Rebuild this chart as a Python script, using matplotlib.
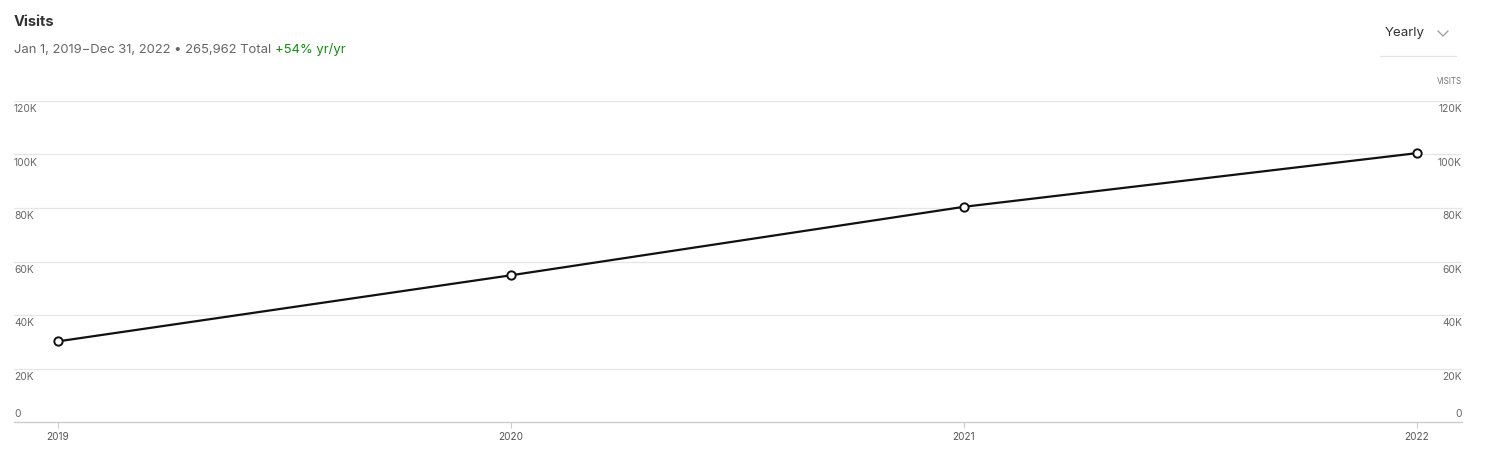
import matplotlib.pyplot as plt
from matplotlib.lines import Line2D

years = [2019, 2020, 2021, 2022]
visits = [30150, 54850, 80450, 100512]
y_ticks = [0, 20000, 40000, 60000, 80000, 100000, 120000]
y_labels = ['0', '20K', '40K', '60K', '80K', '100K', '120K']

plt.rcParams['font.family'] = ['Inter', 'DejaVu Sans']

W, H = 1490, 465
fig = plt.figure(figsize=(W / 100, H / 100), dpi=100)


def fx(x):
    return x / W


def fy(y):
    return 1 - y / H


ax = fig.add_axes([fx(14), fy(422), fx(1462) - fx(14), fy(101) - fy(422)])

ax.plot(years, visits, color='#111111', linewidth=1.6, marker='o', markersize=6,
        markerfacecolor='white', markeredgecolor='#111111', markeredgewidth=1.4, zorder=3)

ax.set_xlim(2019 - 44 / 453, 2022 + 45 / 453)
ax.set_ylim(0, 120000)

for t in y_ticks[1:]:
    ax.axhline(t, color='#e6e6e6', linewidth=0.9, zorder=1)

for s in ['top', 'left', 'right']:
    ax.spines[s].set_visible(False)
ax.spines['bottom'].set_color('#cccccc')
ax.spines['bottom'].set_linewidth(1)

ax.set_yticks([])
ax.set_xticks(years)
ax.set_xticklabels([str(y) for y in years])
ax.tick_params(axis='x', colors='#cccccc', length=4, width=0.8, pad=3,
               labelsize=7.2, labelcolor='#555555')

# y labels on both sides: just below each grid line, the zero label above the axis
ytr = ax.get_yaxis_transform()
for t, lab in zip(y_ticks, y_labels):
    if t == 0:
        va, dy = 'bottom', 2.5
    else:
        va, dy = 'top', -2.5
    ax.annotate(lab, xy=(0, t), xycoords=ytr, xytext=(0, dy), textcoords='offset points',
                ha='left', va=va, fontsize=7.4, color='#666666')
    ax.annotate(lab, xy=(1, t), xycoords=ytr, xytext=(0, dy), textcoords='offset points',
                ha='right', va=va, fontsize=7.4, color='#666666')

fig.text(fx(1462), fy(86), 'VISITS', ha='right', va='bottom', fontsize=5.8, color='#777777')

# header
fig.text(fx(14), fy(22), 'Visits', ha='left', va='center', fontsize=10.6,
         fontweight='bold', color='#333333')
t1 = fig.text(fx(14), fy(50), 'Jan 1, 2019\u2212Dec 31, 2022 \u2022 265,962 Total',
              ha='left', va='center', fontsize=9.4, color='#666666')
plt.annotate('+54% yr/yr', xy=(1, 0.5), xycoords=t1, xytext=(3, 0),
             textcoords='offset points', ha='left', va='center',
             fontsize=9.4, color='#1a8917')

fig.text(fx(1385), fy(33), 'Yearly', ha='left', va='center', fontsize=9.6, color='#333333')
fig.add_artist(Line2D([fx(1438), fx(1443), fx(1448)], [fy(31), fy(36), fy(31)],
                      transform=fig.transFigure, color='#999999', linewidth=0.9))
fig.add_artist(Line2D([fx(1380), fx(1456)], [fy(56), fy(56)],
                      transform=fig.transFigure, color='#e6e6e6', linewidth=0.9))

fig.savefig('out.png', dpi=100, facecolor='white')
